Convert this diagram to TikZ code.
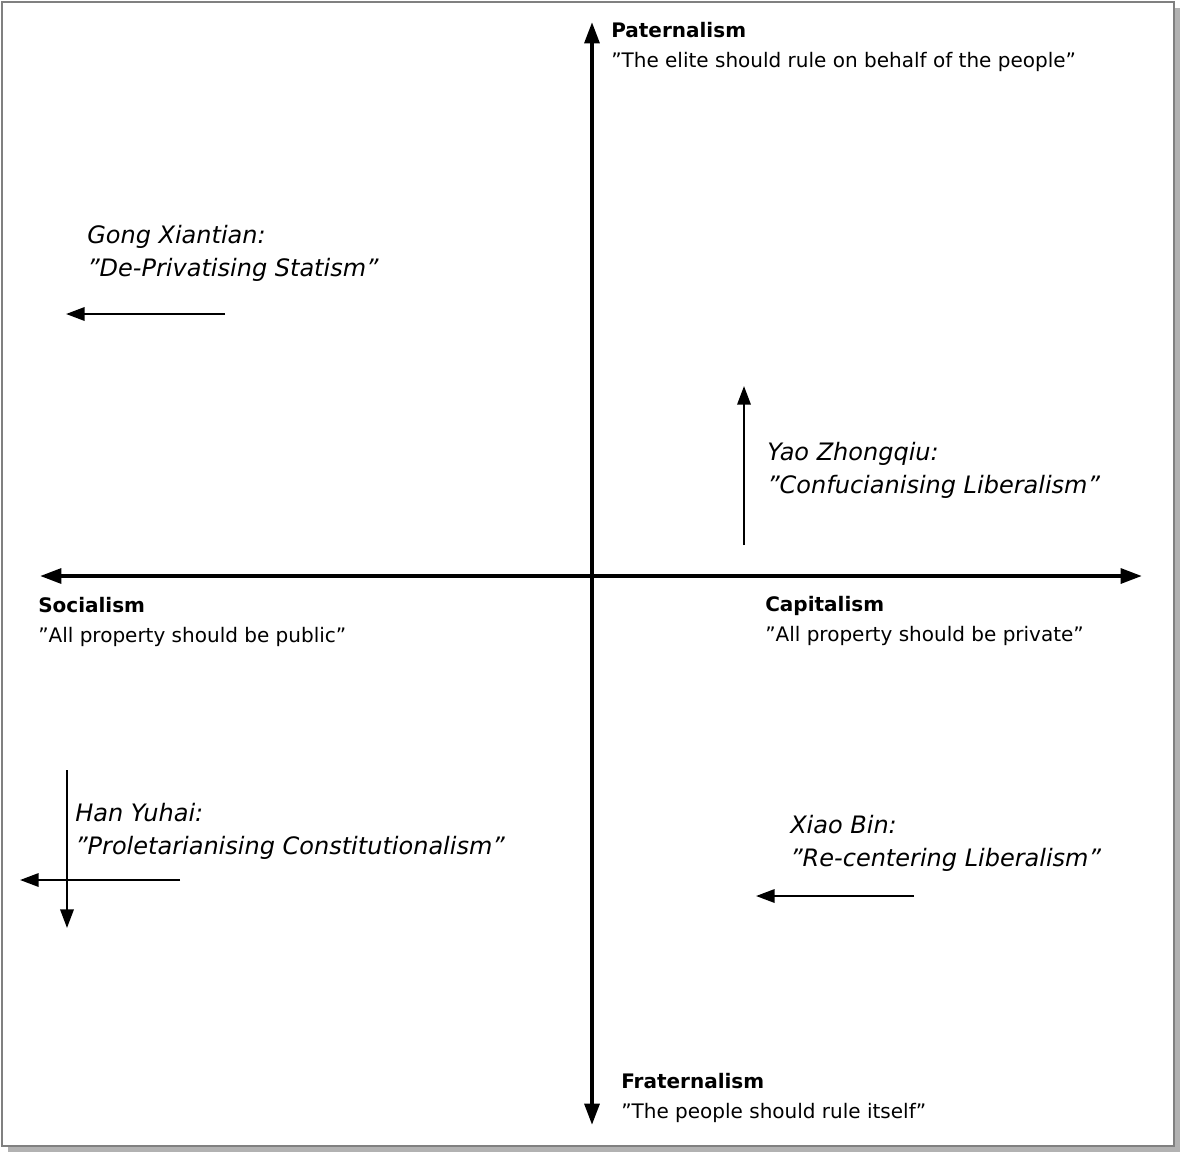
\documentclass[tikz,border=0pt]{standalone}
\usepackage{fontspec}
\setmainfont{DejaVu Sans}
\usetikzlibrary{arrows.meta}
\begin{document}
\begin{tikzpicture}[x=0.75pt,y=-0.75pt,
  axis/.style={line width=3pt,{Triangle[length=16pt,width=11pt]}-{Triangle[length=16pt,width=11pt]}},
  move/.style={line width=1.8pt,-{Triangle[length=14pt,width=10pt]}},
  lab/.style={anchor=north west,align=left,inner sep=0pt,font=\fontsize{15}{22.5}\selectfont},
  ilab/.style={anchor=north west,align=left,inner sep=0pt,font=\fontsize{18}{24.8}\selectfont\itshape}]
\useasboundingbox (0,0) rectangle (1181,1154);
\fill[gray!60] (8,8) rectangle (1180,1152);
\draw[fill=white,line width=0.8pt,draw=gray] (2,2) rectangle (1174,1146);
\coordinate (L) at (40,576); \coordinate (R) at (1142,576);
\coordinate (T) at (592,22); \coordinate (B) at (592,1125);
\draw[axis] (L) -- (R);
\draw[axis] (B) -- (T);
\node[lab] (pat) at (611,22) {\textbf{Paternalism}\\"The elite should rule on behalf of the people"};
\node[lab] (fra) at (621,1073) {\textbf{Fraternalism}\\"The people should rule itself"};
\node[lab] (soc) at (38,597) {\textbf{Socialism}\\"All property should be public"};
\node[lab] (cap) at (765,596) {\textbf{Capitalism}\\"All property should be private"};
\node[ilab] (gong) at (87,225) {Gong Xiantian:\\"De-Privatising Statism"};
\node[ilab] (yao) at (767,442) {Yao Zhongqiu:\\"Confucianising Liberalism"};
\node[ilab] (han) at (75,803) {Han Yuhai:\\"Proletarianising Constitutionalism"};
\node[ilab] (xiao) at (790,815) {Xiao Bin:\\"Re-centering Liberalism"};
\coordinate (g1) at (225,314); \coordinate (g2) at (66,314);
\coordinate (y1) at (744,545); \coordinate (y2) at (744,386);
\coordinate (h1) at (67,770); \coordinate (h2) at (67,928);
\coordinate (h3) at (180,880); \coordinate (h4) at (20,880);
\coordinate (x1) at (914,896); \coordinate (x2) at (756,896);
\draw[move] (g1) -- (g2);
\draw[move] (y1) -- (y2);
\draw[move] (h1) -- (h2);
\draw[move] (h3) -- (h4);
\draw[move] (x1) -- (x2);
\end{tikzpicture}
\end{document}
